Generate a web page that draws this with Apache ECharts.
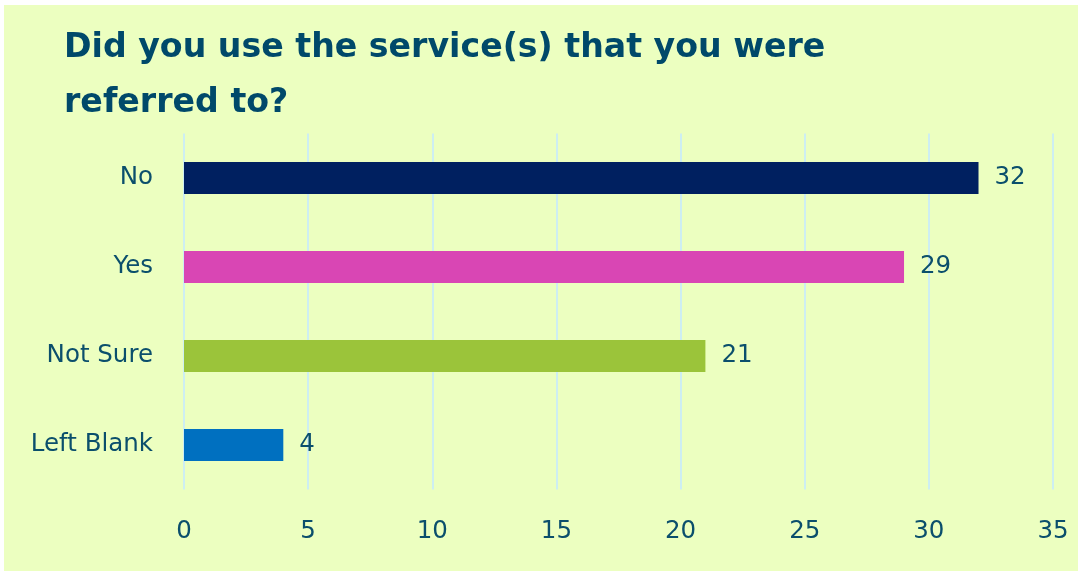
<!DOCTYPE html>
<html>
<head>
<meta charset="utf-8">
<script src="https://cdn.jsdelivr.net/npm/echarts@6/dist/echarts.min.js"></script>
<style>
html,body{margin:0;padding:0;background:#fff;}
#c{width:1078px;height:571px;}
</style>
</head>
<body>
<div id="c"></div>
<script>
const titleText = "Did you use the service(s) that you were\nreferred to?";
const categories = ["No", "Yes", "Not Sure", "Left Blank"];
const values = [32, 29, 21, 4];
const barColors = ["#002060", "#D946B4", "#9BC43A", "#0070C0"];
const xTicks = [0, 5, 10, 15, 20, 25, 30, 35];

const textColor = "#0B4F6C";
const fam = 'DejaVu Sans';
const chart = echarts.init(document.getElementById('c'));
chart.setOption({
  backgroundColor: '#ffffff',
  animation: false,
  graphic: [{
    type: 'rect', z: -10, silent: true,
    shape: {x: 4, y: 5, width: 1074, height: 566},
    style: {fill: '#ECFFC0'}
  }],
  title: {
    text: titleText,
    left: 59, top: 16,
    textStyle: {
      fontFamily: fam, fontWeight: 'bold', fontSize: 33.2,
      color: '#00496A', lineHeight: 55
    }
  },
  grid: {left: 184, right: 25, top: 133.5, bottom: 81.5, containLabel: false},
  xAxis: {
    type: 'value', min: xTicks[0], max: xTicks[xTicks.length - 1], interval: 5,
    axisLine: {show: false}, axisTick: {show: false},
    splitLine: {show: true, lineStyle: {color: '#CDEEF2', width: 2}},
    axisLabel: {color: textColor, fontFamily: fam, fontSize: 24.5, margin: 30}
  },
  yAxis: {
    type: 'category', inverse: true, data: categories,
    axisLine: {show: false}, axisTick: {show: false},
    axisLabel: {color: textColor, fontFamily: fam, fontSize: 24.5, margin: 31}
  },
  series: [{
    type: 'bar',
    barWidth: 32,
    data: values.map((v, i) => ({value: v, itemStyle: {color: barColors[i]}})),
    label: {
      show: true, position: 'right', distance: 16,
      color: textColor, fontFamily: fam, fontSize: 24.5
    }
  }]
});
</script>
</body>
</html>
